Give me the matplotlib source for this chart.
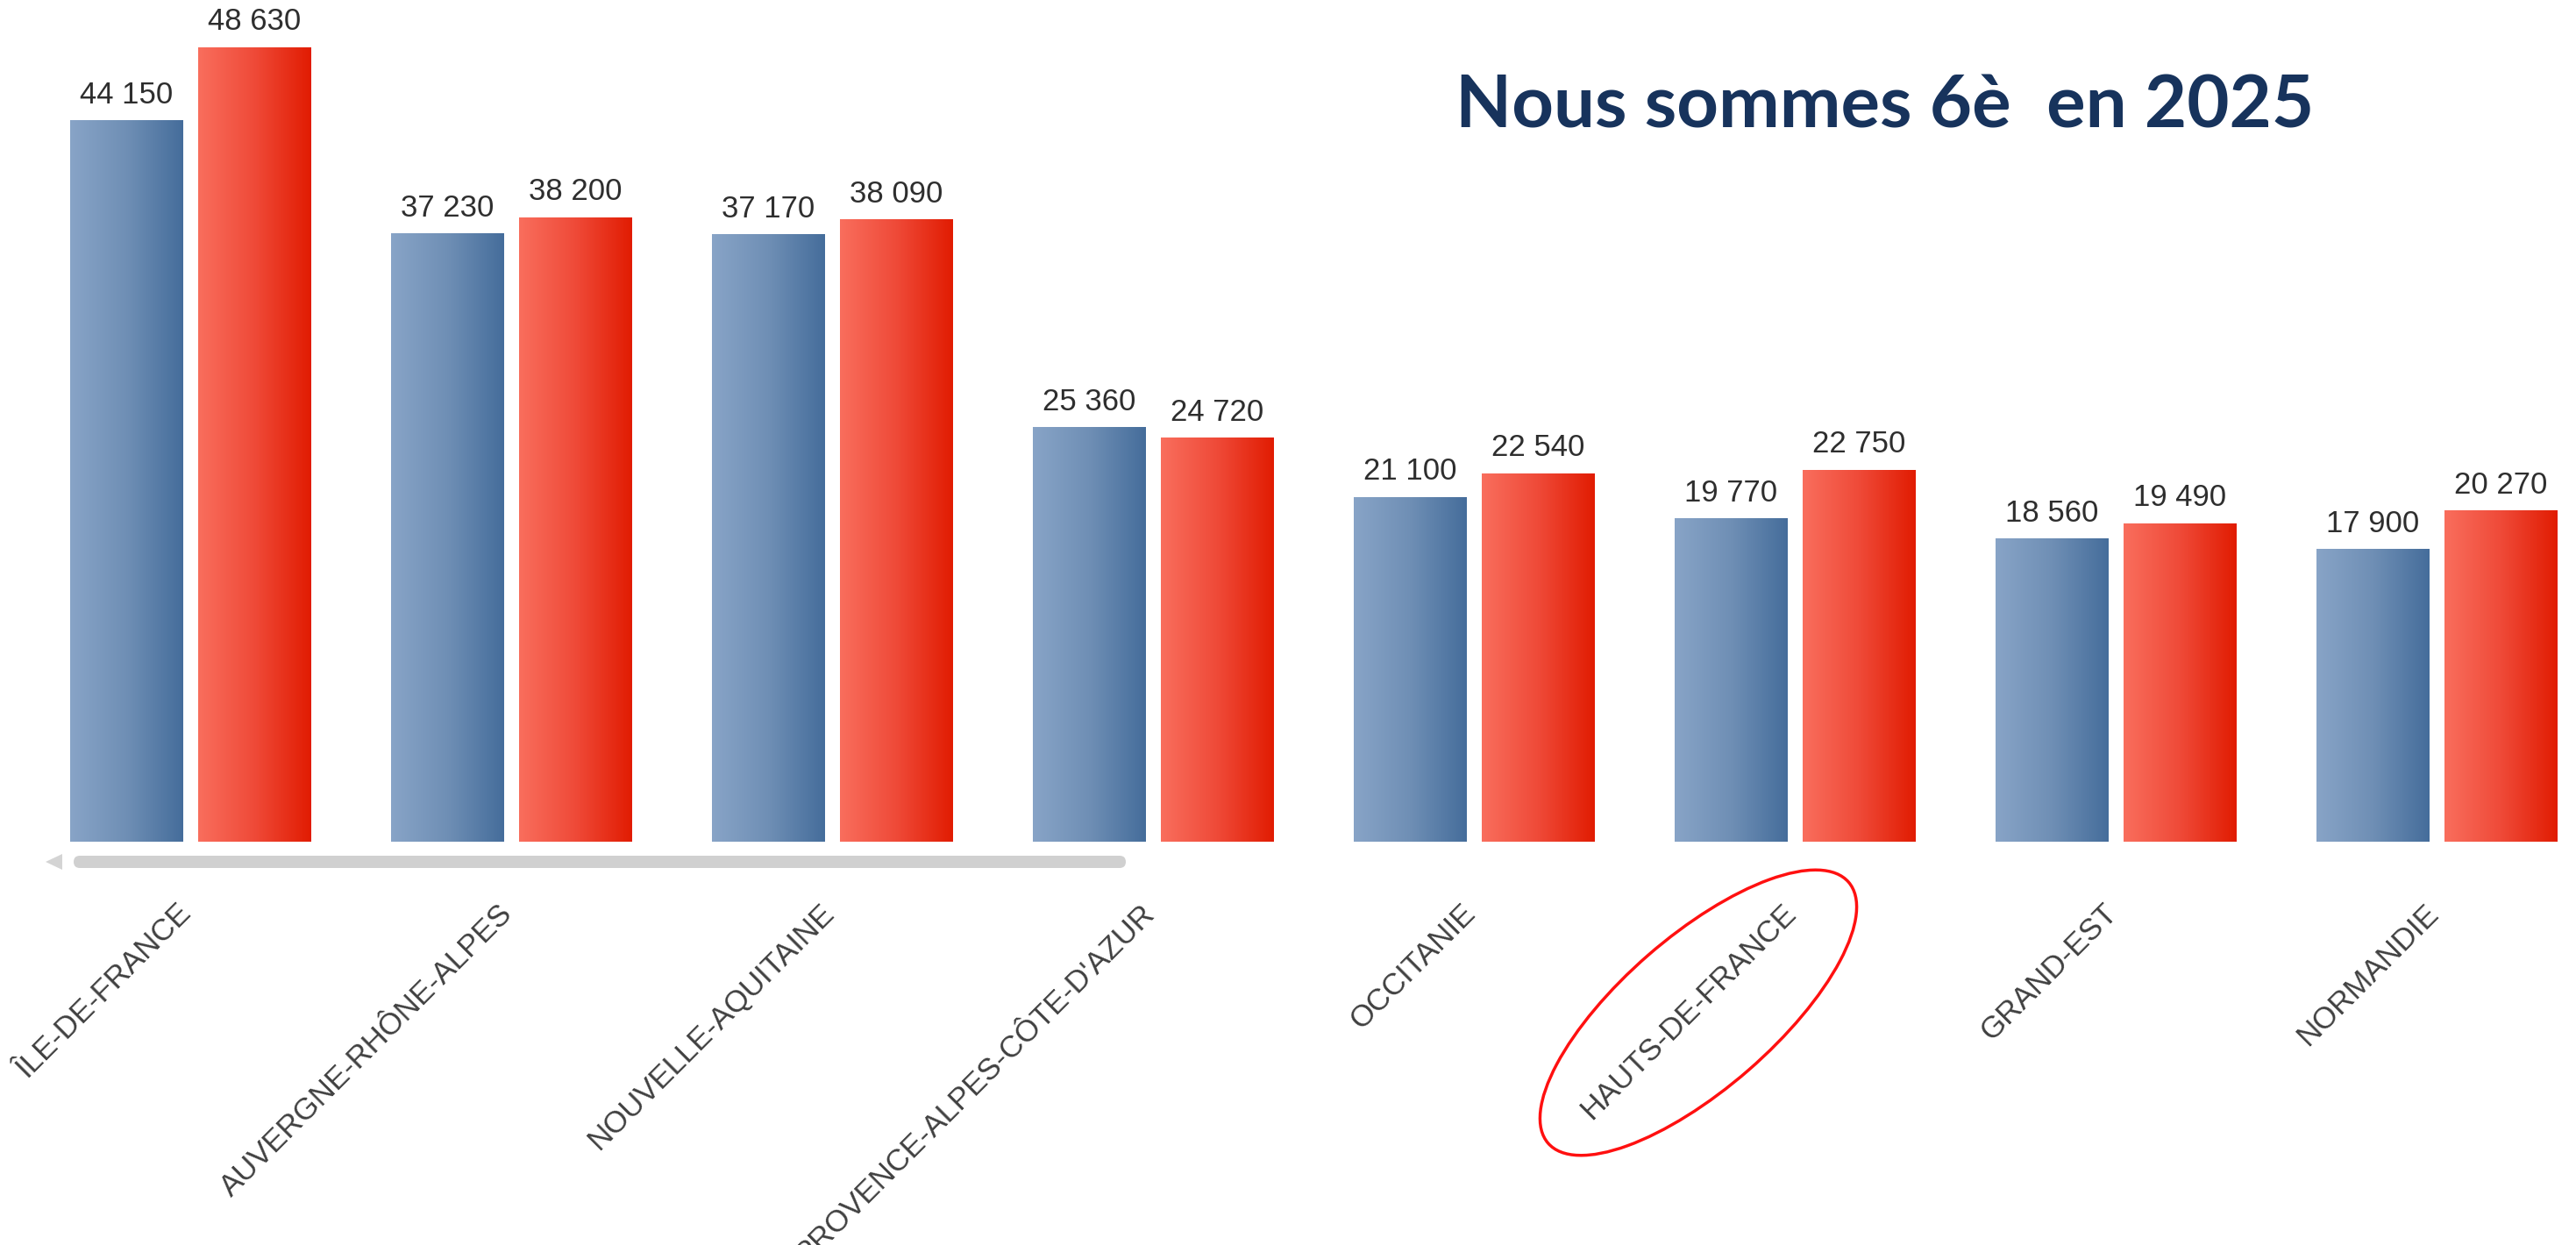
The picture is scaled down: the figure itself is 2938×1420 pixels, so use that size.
import numpy as np
import matplotlib
matplotlib.use("Agg")
import matplotlib.pyplot as plt
from matplotlib.patches import Ellipse, FancyBboxPatch, Polygon
from matplotlib.colors import LinearSegmentedColormap
from matplotlib.transforms import IdentityTransform

# ---- data ----
regions = ["ÎLE-DE-FRANCE", "AUVERGNE-RHÔNE-ALPES", "NOUVELLE-AQUITAINE",
           "PROVENCE-ALPES-CÔTE-D'AZUR", "OCCITANIE", "HAUTS-DE-FRANCE",
           "GRAND-EST", "NORMANDIE"]
series_blue = [44150, 37230, 37170, 25360, 21100, 19770, 18560, 17900]
series_red = [48630, 38200, 38090, 24720, 22540, 22750, 19490, 20270]
title_text = "Nous sommes 6è  en 2025"
highlight = "HAUTS-DE-FRANCE"

W, H = 2938, 1420
fig = plt.figure(figsize=(W / 100, H / 100), dpi=100)
fig.patch.set_facecolor("white")

pitch = 366.0
c0 = 217.0
base_y = 960.0
ax = fig.add_axes([0, (H - base_y) / H, 1, base_y / H])
ax.set_axis_off()
xmin = -c0 / pitch
xmax = xmin + W / pitch
ymax = base_y / 0.01864

blue_cmap = LinearSegmentedColormap.from_list("b", ["#88a4c7", "#6f8fb5", "#456d9b"])
red_cmap = LinearSegmentedColormap.from_list("r", ["#f96e5d", "#ef4a38", "#e11c02"])
grad = np.linspace(0, 1, 256).reshape(1, -1)

x = np.arange(len(regions))
bw = 0.35
off = 0.2


def gradient_bars(xpos, vals, cmap):
    bars = ax.bar(xpos, vals, width=bw, color="none", edgecolor="none")
    for b in bars:
        x0, y0 = b.get_x(), b.get_y()
        im = ax.imshow(grad, extent=[x0, x0 + b.get_width(), y0, y0 + b.get_height()],
                       aspect="auto", cmap=cmap, zorder=2, interpolation="bilinear")
        im.set_clip_path(b)
    return bars


bb = gradient_bars(x - off, series_blue, blue_cmap)
rb = gradient_bars(x + off, series_red, red_cmap)

lab_font = ["Liberation Sans", "DejaVu Sans"]
for bars, vals in ((bb, series_blue), (rb, series_red)):
    for b, v in zip(bars, vals):
        ax.annotate(f"{v:,}".replace(",", " "),
                    (b.get_x() + b.get_width() / 2, b.get_height()),
                    xytext=(0, 9), textcoords="offset points",
                    ha="center", va="bottom", fontsize=25,
                    family=lab_font, color="#2e2e2e")

ax.set_xlim(xmin, xmax)
ax.set_ylim(0, ymax)

# category labels
for i, name in enumerate(regions):
    fig.text((c0 + i * pitch + 8) / W, 1 - 1025 / H, name, rotation=45,
             ha="right", va="top", fontsize=25,
             family=["Liberation Sans", "DejaVu Sans"], color="#404040")

# scrollbar decoration
sb = FancyBboxPatch((84, H - 990), 1200, 14,
                    boxstyle="round,pad=0,rounding_size=7",
                    transform=IdentityTransform(), facecolor="#d0d0d0",
                    edgecolor="none")
fig.add_artist(sb)
tri = Polygon([[52, H - 983], [71, H - 974], [71, H - 992]], closed=True,
              transform=IdentityTransform(), facecolor="#d4d4d4", edgecolor="none")
fig.add_artist(tri)

# highlight ellipse
ell = Ellipse((1937, H - 1155), 454, 174, angle=41, transform=IdentityTransform(),
              facecolor="none", edgecolor="#ff1010", linewidth=2.5)
fig.add_artist(ell)

# title
fig.text(2150 / W, 1 - 145 / H, title_text, ha="center", va="baseline",
         fontsize=60, fontweight="bold", family=["Lato", "DejaVu Sans"],
         color="#17335c")

fig.savefig("out.png", dpi=100, facecolor="white")
